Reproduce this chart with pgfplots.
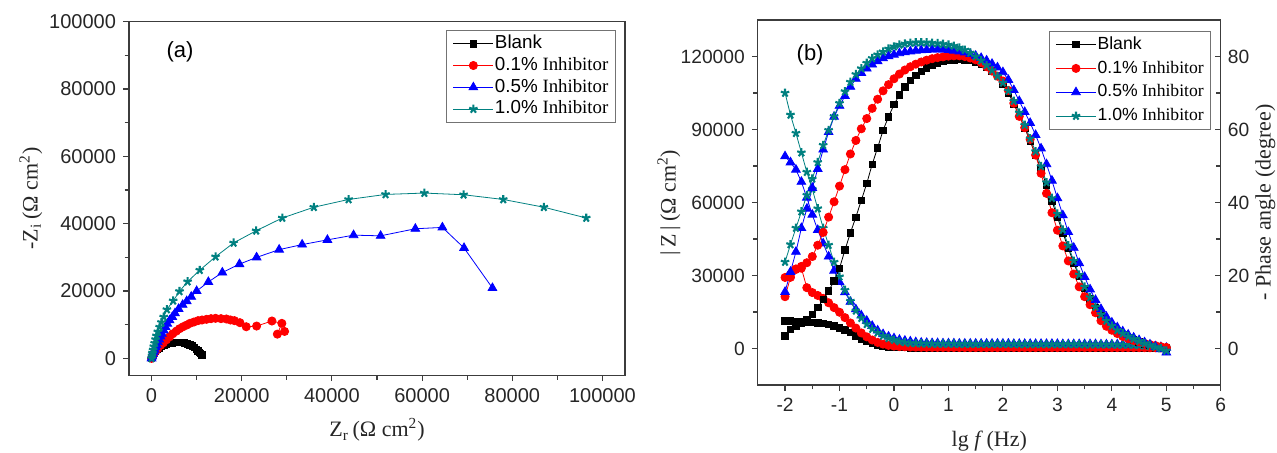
\documentclass[border=0pt]{standalone}
\usepackage{fontspec}
\setmainfont{Liberation Serif}
\newfontfamily\arial{Liberation Sans}
\usepackage{pgfplots}
\usepackage{pgfplotstable}
\pgfplotsset{compat=1.18}

\definecolor{cteal}{RGB}{0,128,128}
\definecolor{frame}{RGB}{60,60,60}

% Bode data: lg f, |Z| (Ohm cm^2), -phase (degree)
\pgfplotstableread{
lgf Z P
-2.0 11300 3.5
-1.9 11300 5.2
-1.8 11200 6.2
-1.7 11100 7.0
-1.6 10900 8.0
-1.5 10700 9.3
-1.4 10500 11.2
-1.3 10200 13.4
-1.2 9800 15.8
-1.1 9300 18.5
-1.0 8500 22.0
-0.9 7600 27.0
-0.8 6500 31.7
-0.7 5200 36.0
-0.6 4000 40.6
-0.5 2900 45.2
-0.4 2000 50.5
-0.3 1300 55.0
-0.2 900 59.8
-0.1 600 63.5
0.0 450 66.8
0.1 380 69.5
0.2 340 71.7
0.3 320 73.5
0.4 310 74.9
0.5 300 76.0
0.6 300 76.9
0.7 300 77.6
0.8 300 78.2
0.9 300 78.6
1.0 300 78.9
1.1 300 79.1
1.2 300 79.2
1.3 300 79.1
1.4 300 78.9
1.5 300 78.5
1.6 300 77.9
1.7 300 77.1
1.8 300 76.1
1.9 300 74.9
2.0 300 72.5
2.1 300 70.0
2.2 300 67.0
2.3 300 63.8
2.4 300 60.4
2.5 300 56.8
2.6 300 53.0
2.7 300 49.0
2.8 300 44.7
2.9 300 40.4
3.0 300 36.0
3.1 300 31.7
3.2 300 27.5
3.3 300 23.4
3.4 300 19.7
3.5 300 16.4
3.6 300 13.6
3.7 300 11.1
3.8 300 9.0
3.9 300 7.3
4.0 300 5.9
4.1 300 4.8
4.2 300 3.9
4.3 300 3.1
4.4 300 2.4
4.5 300 1.8
4.6 300 1.3
4.7 280 0.9
4.8 260 0.5
4.9 230 0.2
5.0 200 0.0
}\blank

\pgfplotstableread{
lgf Z P
-2.0 29200 14.2
-1.9 30500 19.5
-1.8 32500 21.8
-1.7 33000 22.5
-1.6 25000 23.5
-1.5 23000 25.2
-1.4 21800 28.3
-1.3 20600 31.8
-1.2 18800 36.0
-1.1 16800 40.2
-1.0 14900 44.5
-0.9 12700 49.0
-0.8 10500 53.3
-0.7 8400 57.0
-0.6 6400 60.2
-0.5 4800 63.0
-0.4 3500 65.8
-0.3 2500 68.3
-0.2 1800 70.6
-0.1 1300 72.3
0.0 1000 73.9
0.1 800 75.2
0.2 700 76.3
0.3 620 77.2
0.4 560 77.9
0.5 520 78.5
0.6 500 79.0
0.7 480 79.4
0.8 460 79.7
0.9 450 79.9
1.0 440 80.1
1.1 430 80.2
1.2 420 80.2
1.3 410 80.0
1.4 400 79.6
1.5 400 79.1
1.6 400 78.3
1.7 400 77.2
1.8 400 76.0
1.9 400 74.6
2.0 400 73.3
2.1 400 70.7
2.2 400 67.2
2.3 400 63.6
2.4 400 60.5
2.5 400 57.3
2.6 400 53.0
2.7 400 48.0
2.8 400 42.5
2.9 400 37.2
3.0 400 32.4
3.1 400 28.1
3.2 400 24.0
3.3 400 20.4
3.4 400 16.9
3.5 400 14.2
3.6 400 12.0
3.7 400 9.8
3.8 400 7.6
3.9 400 6.1
4.0 400 5.0
4.1 400 4.1
4.2 400 3.3
4.3 400 2.7
4.4 380 2.2
4.5 360 1.8
4.6 340 1.4
4.7 320 1.1
4.8 300 0.8
4.9 250 0.5
5.0 200 0.3
}\inhA

\pgfplotstableread{
lgf Z P
-2.0 79000 15.5
-1.9 76500 21.0
-1.8 73500 26.5
-1.7 68500 33.0
-1.6 62000 38.3
-1.5 55000 44.0
-1.4 48700 49.2
-1.3 43200 54.5
-1.2 37800 59.3
-1.1 32000 63.5
-1.0 27300 66.5
-0.9 23100 69.2
-0.8 19200 71.7
-0.7 16100 73.9
-0.6 13600 75.5
-0.5 11400 76.7
-0.4 9300 77.8
-0.3 7400 78.7
-0.2 5900 79.5
-0.1 4900 80.1
0.0 4200 80.5
0.1 3600 80.9
0.2 3200 81.2
0.3 2900 81.4
0.4 2600 81.6
0.5 2400 81.7
0.6 2300 81.8
0.7 2200 81.9
0.8 2200 81.9
0.9 2100 81.9
1.0 2100 81.8
1.1 2100 81.6
1.2 2000 81.4
1.3 2000 81.1
1.4 2000 80.7
1.5 2000 80.2
1.6 2000 79.6
1.7 2000 78.9
1.8 2000 78.0
1.9 2000 77.0
2.0 2000 75.7
2.1 2000 73.6
2.2 1900 70.8
2.3 1900 67.8
2.4 1900 64.8
2.5 1900 61.8
2.6 1900 58.5
2.7 1900 54.8
2.8 1900 50.5
2.9 1900 46.0
3.0 1900 41.2
3.1 1800 36.5
3.2 1800 31.9
3.3 1800 27.6
3.4 1800 23.4
3.5 1800 19.6
3.6 1800 16.2
3.7 1800 13.3
3.8 1700 10.8
3.9 1700 8.7
4.0 1700 7.1
4.1 1700 5.8
4.2 1700 4.7
4.3 1600 3.8
4.4 1600 3.0
4.5 1500 2.3
4.6 1400 1.7
4.7 1200 1.1
4.8 900 0.5
4.9 600 -0.2
5.0 300 -1.1
}\inhB

\pgfplotstableread{
lgf Z P
-2.0 105000 23.7
-1.9 96000 28.5
-1.8 88500 33.0
-1.7 80500 37.5
-1.6 72500 42.0
-1.5 65500 46.5
-1.4 57500 51.0
-1.3 49500 55.7
-1.2 42500 59.8
-1.1 35500 63.6
-1.0 29500 67.2
-0.9 24000 70.4
-0.8 19500 73.0
-0.7 15500 75.1
-0.6 12500 76.7
-0.5 10000 78.2
-0.4 8000 79.5
-0.3 6500 80.5
-0.2 5200 81.3
-0.1 4200 82.1
0.0 3500 82.7
0.1 2900 83.2
0.2 2500 83.5
0.3 2200 83.7
0.4 2100 83.8
0.5 2000 83.8
0.6 2000 83.8
0.7 1900 83.7
0.8 1900 83.6
0.9 1900 83.4
1.0 1900 83.2
1.1 1900 82.9
1.2 1800 82.4
1.3 1800 81.8
1.4 1800 81.0
1.5 1800 80.0
1.6 1800 78.9
1.7 1800 77.6
1.8 1800 76.2
1.9 1800 74.6
2.0 1800 72.8
2.1 1800 70.6
2.2 1800 67.8
2.3 1700 64.6
2.4 1700 61.2
2.5 1700 57.5
2.6 1700 54.0
2.7 1700 49.9
2.8 1700 45.5
2.9 1700 41.2
3.0 1700 36.9
3.1 1700 32.5
3.2 1700 28.2
3.3 1700 24.0
3.4 1700 20.2
3.5 1600 16.9
3.6 1600 14.0
3.7 1600 11.4
3.8 1600 9.3
3.9 1600 7.6
4.0 1600 6.2
4.1 1500 5.0
4.2 1500 4.1
4.3 1500 3.3
4.4 1400 2.6
4.5 1300 2.0
4.6 1200 1.4
4.7 1000 0.9
4.8 800 0.4
4.9 500 0.0
5.0 300 -0.6
}\inhC

\pgfplotsset{
  eis/.style={
    scale only axis,
    axis line style={frame, line width=0.65pt},
    tick style={frame, line width=0.55pt},
    tick align=outside,
    major tick length=3pt, minor tick length=2.2pt,
    xtick pos=bottom,
    tick label style={text=black!85},
    label style={font=\fontsize{11}{13}\selectfont, text=black!85},
    scaled ticks=false,
    /pgf/number format/fixed,
    /pgf/number format/1000 sep={},
    /pgf/number format/assume math mode=true,
    legend cell align=left,
    legend style={draw=black!55, line width=0.5pt, fill=white,
      inner xsep=3pt, inner ysep=1.5pt,
      nodes={inner sep=0.6pt, text height=6.8pt, text depth=2.1pt}},
    legend image code/.code={
      \draw[mark repeat=2, mark phase=2, #1]
        plot coordinates {(0pt,0pt) (10pt,0pt) (20pt,0pt)};},
  },
  sblank/.style={black, line width=0.4pt, mark=square*, mark size=1.6pt, mark options={solid}},
  sA/.style={red, line width=0.4pt, mark=*, mark size=2.05pt, mark options={solid}},
  sB/.style={blue, line width=0.4pt, mark=triangle*, mark size=2.5pt, mark options={solid}},
  sC/.style={cteal, line width=0.4pt, mark=star, mark size=2.2pt, mark options={solid, line width=1.05pt}},
}

\begin{document}
\begin{tikzpicture}
\useasboundingbox (0,0) rectangle (638.5pt,226pt);

% ---------------- (a) Nyquist ----------------
\begin{axis}[eis,
  at={(64.5pt,38.4pt)}, anchor=south west,
  width=248pt, height=176.75pt,
  ytick pos=left,
  tick label style={font=\arial\fontsize{10}{11}\selectfont},
  xmin=-5000, xmax=105000, ymin=-5000, ymax=100000,
  xtick={0,20000,40000,60000,80000,100000},
  ytick={0,20000,40000,60000,80000,100000},
  minor x tick num=1, minor y tick num=1,
  xlabel={Z\textsubscript{r}\,(Ω cm\textsuperscript{2})},
  ylabel={-Z\textsubscript{i}\,(Ω cm\textsuperscript{2})},
  xlabel style={at={(axis description cs:0.5,-0.155)}, anchor=center},
  ylabel style={at={(axis description cs:-0.198,0.5)}, anchor=center},
  legend style={at={(1,1)}, anchor=north east, xshift=-4.5pt, yshift=-4.2pt,
    font=\fontsize{9.4}{10}\selectfont, row sep=0.8pt},
]
\addplot[sblank] coordinates {
(0,0) (150,600) (350,1200) (600,1700) (900,2200) (1300,2700) (1700,3100)
(2200,3500) (2700,3850) (3300,4150) (3900,4400) (4600,4600) (5300,4700)
(6000,4750) (6700,4700) (7300,4550) (7900,4350) (8500,4050) (9000,3650)
(9500,3200) (9900,2700) (10300,2200) (10600,1800) (10900,1400) (11200,1000)
(11300,800)};
\addlegendentry{\arial Blank}
\addplot[sA] coordinates {
(0,0) (250,700) (600,1500) (1000,2300) (1400,3000) (2000,3900) (2600,4600)
(3300,5500) (4000,6400) (4700,7300) (5500,8100) (6200,8800) (7000,9400)
(7800,9900) (8500,10400) (9400,10800) (10300,11200) (11200,11400)
(12200,11600) (13200,11800) (14200,11900) (15400,11800) (16600,11700)
(17500,11400) (18400,11200) (19600,10600) (21000,9400) (23300,9600)
(26700,11100) (28900,10400) (27900,7200) (29500,8000)};
\addlegendentry{{\arial 0.1\%} Inhibitor}
\addplot[sB] coordinates {
(0,0) (150,600) (300,1300) (500,2000) (700,2600) (900,3300) (1100,4000)
(1400,4800) (1700,5600) (2000,6500) (2300,7300) (2700,8300) (3100,9300)
(3500,10300) (4000,11300) (4600,12300) (5200,13400) (6000,14700)
(6900,15900) (7800,17000) (8800,18300) (10000,20000) (12600,22700)
(15700,25500) (19500,28000) (23300,30000) (28300,32300) (33400,33800)
(39000,35200) (44800,36600) (50800,36400) (58500,38500) (64500,38900)
(69300,32800) (75600,20900)};
\addlegendentry{{\arial 0.5\%} Inhibitor}
\addplot[sC] coordinates {
(0,0) (100,800) (200,1600) (350,2500) (500,3500) (700,4500) (900,5600)
(1100,6700) (1400,7900) (1800,9300) (2200,10700) (2700,12300) (3400,14500)
(4800,17100) (6200,19900) (8000,22800) (10700,26200) (14200,30200)
(18200,34300) (23200,37900) (29000,41700) (36000,44900) (43700,47200)
(51900,48700) (60500,49100) (69200,48600) (78000,47200) (87000,44900)
(96400,41700)};
\addlegendentry{{\arial 1.0\%} Inhibitor}
\node[font=\arial\fontsize{11}{13}\selectfont] at (rel axis cs:0.103,0.914) {(a)};
\end{axis}

% ---------------- (b) Bode: |Z| ----------------
\begin{axis}[eis,
  at={(378.9pt,33.5pt)}, anchor=south west,
  width=231.5pt, height=182.5pt,
  ytick pos=left,
  tick label style={font=\arial\fontsize{9.6}{11}\selectfont},
  xmin=-2.5, xmax=6, ymin=-15000, ymax=135000,
  xtick={-2,-1,0,1,2,3,4,5,6},
  ytick={0,30000,60000,90000,120000},
  minor x tick num=1, minor y tick num=1,
  xlabel={lg \textit{f}\,(Hz)},
  ylabel={|\,Z\,|\,(Ω cm\textsuperscript{2})},
  xlabel style={at={(axis description cs:0.5,-0.155)}, anchor=center},
  ylabel style={at={(axis description cs:-0.192,0.5)}, anchor=center},
]
\addplot[sblank] table[x=lgf, y=Z] {\blank};
\addplot[sA] table[x=lgf, y=Z] {\inhA};
\addplot[sB] table[x=lgf, y=Z] {\inhB};
\addplot[sC] table[x=lgf, y=Z] {\inhC};
\node[font=\arial\fontsize{11}{13}\selectfont] at (rel axis cs:0.113,0.904) {(b)};
\end{axis}

% ---------------- (b) Bode: phase ----------------
\begin{axis}[eis,
  at={(378.9pt,33.5pt)}, anchor=south west,
  width=231.5pt, height=182.5pt,
  xmin=-2.5, xmax=6, ymin=-10, ymax=90,
  hide x axis,
  axis y line*=right,
  ytick pos=right, yticklabel pos=right,
  tick align=inside,
  tick label style={font=\arial\fontsize{9.6}{11}\selectfont},
  ytick={0,20,40,60,80}, minor y tick num=1,
  ylabel={- Phase angle (degree)},
  ylabel style={at={(axis description cs:1.096,0.5)}, anchor=center},
  legend style={at={(1,1)}, anchor=north east, xshift=-4.7pt, yshift=-5.5pt,
    font=\fontsize{8.8}{10}\selectfont, row sep=1.8pt},
]
\addplot[sblank] table[x=lgf, y=P] {\blank};
\addlegendentry{\arial Blank}
\addplot[sA] table[x=lgf, y=P] {\inhA};
\addlegendentry{{\arial 0.1\%} Inhibitor}
\addplot[sB] table[x=lgf, y=P] {\inhB};
\addlegendentry{{\arial 0.5\%} Inhibitor}
\addplot[sC] table[x=lgf, y=P] {\inhC};
\addlegendentry{{\arial 1.0\%} Inhibitor}
\end{axis}
\end{tikzpicture}
\end{document}
